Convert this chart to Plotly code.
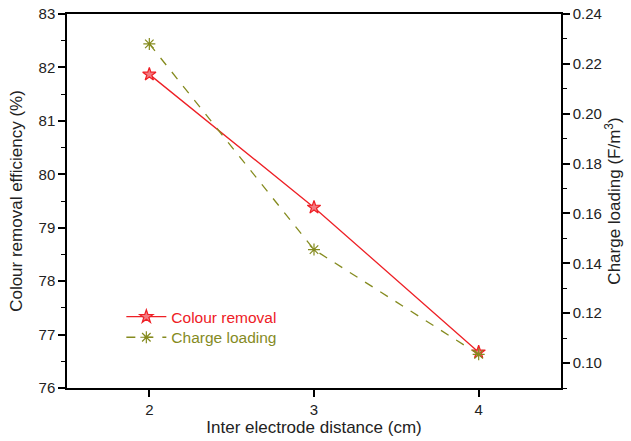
import plotly.graph_objects as go

distance = [2, 3, 4]
colour_removal = [81.87, 79.38, 76.67]
charge_loading = [0.228, 0.1455, 0.1035]

red = "#ee2026"
olive = "#858b1f"
font = "Liberation Sans, Arial, sans-serif"

fig = go.Figure()
fig.add_trace(go.Scatter(
    x=distance, y=colour_removal, name="Colour removal", mode="lines+markers",
    line=dict(color=red, width=1.3),
    marker=dict(symbol="star", size=10, color="#f47a80", line=dict(color=red, width=1.2)),
    legend="legend", yaxis="y", showlegend=True))
fig.add_trace(go.Scatter(
    x=distance, y=charge_loading, name="Charge loading", mode="lines+markers",
    line=dict(color=olive, width=1.3, dash="dash"),
    marker=dict(symbol="asterisk-open", size=10, color=olive, line=dict(color=olive, width=1.2)),
    legend="legend2", yaxis="y2", showlegend=True))

axis_common = dict(showline=True, linecolor="black", linewidth=1.5, ticks="outside",
                   ticklen=7, tickwidth=1.5, tickcolor="black", showgrid=False, zeroline=False,
                   automargin=False,
                   tickfont=dict(family=font, size=15, color="#222"))

fig.update_layout(
    width=631, height=441, plot_bgcolor="white", paper_bgcolor="white",
    margin=dict(l=67, r=70, t=14, b=53),
    font=dict(family=font),
    showlegend=True,
    xaxis=dict(range=[1.5, 4.5], tickvals=[2, 3, 4], mirror=True,
               title=dict(text="Inter electrode distance (cm)", font=dict(family=font, size=17, color="#222"), standoff=4),
               **axis_common),
    yaxis=dict(range=[76, 83], dtick=1, tick0=76,
               minor=dict(dtick=0.5, ticks="outside", ticklen=4, tickcolor="black", tickwidth=1.2),
               title=dict(text="Colour removal efficiency (%)", font=dict(family=font, size=17, color="#222"), standoff=12),
               **axis_common),
    yaxis2=dict(range=[0.09, 0.24], dtick=0.02, tick0=0.10, tickformat=".2f", overlaying="y", side="right",
                minor=dict(dtick=0.01, ticks="outside", ticklen=4, tickcolor="black", tickwidth=1.2),
                title=dict(text="Charge loading (F/m<sup>3</sup>)", font=dict(family=font, size=17, color="#222"), standoff=6),
                **axis_common),
    legend=dict(x=0.11, y=0.235, xanchor="left", yanchor="top", bgcolor="rgba(0,0,0,0)",
                font=dict(family=font, size=15.5, color=red), itemwidth=40),
    legend2=dict(x=0.11, y=0.18, xanchor="left", yanchor="top", bgcolor="rgba(0,0,0,0)",
                 font=dict(family=font, size=15.5, color=olive), itemwidth=40),
)

fig.write_html("out.html")
